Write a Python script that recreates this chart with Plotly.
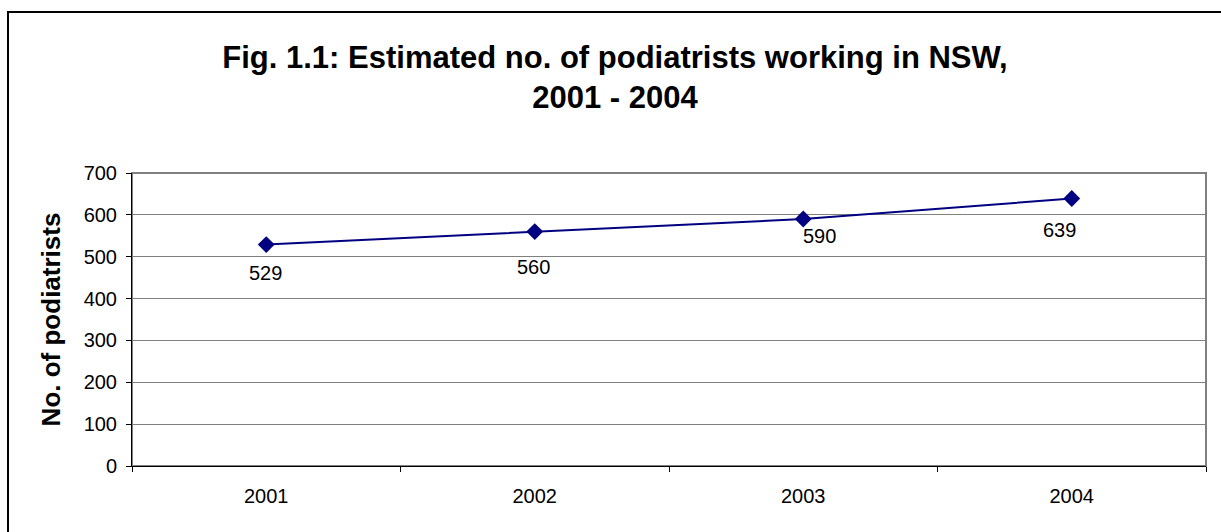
import plotly.graph_objects as go

years = ["2001", "2002", "2003", "2004"]
podiatrists = [529, 560, 590, 639]
y_ticks = [0, 100, 200, 300, 400, 500, 600, 700]

# label placement offsets in pixels (style, not data)
label_dx = [-1, -1, 16, -12]
label_dy = [-28, -35, -17, -31]

W, H = 1221, 532
ml, mr, mt, mb = 132, 15, 173, 66
pw = W - ml - mr
ph = H - mt - mb
FONT = "Liberation Sans, Arial, sans-serif"

fig = go.Figure()
fig.add_trace(go.Scatter(
    x=years, y=podiatrists, mode="lines+markers",
    line=dict(color="#000080", width=2),
    marker=dict(symbol="diamond", size=13, color="#000080"),
    cliponaxis=False, showlegend=False,
))

for i, (v, dx, dy) in enumerate(zip(podiatrists, label_dx, label_dy)):
    fig.add_annotation(x=i, y=v, xref="x", yref="y", text=str(v), showarrow=False,
                       xshift=dx, yshift=dy,
                       font=dict(family=FONT, size=20, color="black"))

fig.update_layout(
    width=W, height=H,
    margin=dict(l=ml, r=mr, t=mt, b=mb),
    paper_bgcolor="white", plot_bgcolor="white",
    font=dict(family=FONT, color="black"),
    title=dict(
        text="<b>Fig. 1.1: Estimated no. of podiatrists working in NSW,<br>2001 - 2004</b>",
        x=615 / W, xanchor="center", y=1 - 68 / H, yanchor="middle",
        font=dict(size=31, family=FONT, color="black"),
    ),
    xaxis=dict(
        type="category", range=[-0.5, 3.5], tickson="boundaries",
        ticks="outside", ticklen=5, tickcolor="black",
        showline=True, linecolor="black", linewidth=1,
        showgrid=False, tickfont=dict(size=20), ticklabelstandoff=12,
        fixedrange=True,
    ),
    yaxis=dict(
        range=[0, 700], tickvals=y_ticks, ticks="outside", ticklen=5,
        tickcolor="black", showline=True, linecolor="black", linewidth=1,
        showgrid=True, gridcolor="#808080", gridwidth=1,
        tickfont=dict(size=20), zeroline=False, ticklabelstandoff=5,
        title=dict(text="<b>No. of podiatrists</b>", font=dict(size=26), standoff=15),
    ),
    shapes=[
        dict(type="rect", xref="paper", yref="paper", x0=0, x1=1, y0=0, y1=1,
             line=dict(color="#808080", width=2), layer="below"),
        dict(type="rect", xref="paper", yref="paper",
             x0=(8 - ml) / pw, x1=(W + 10 - ml) / pw,
             y0=-(H + 10 - mt - ph) / ph, y1=1 + (mt - 12) / ph,
             line=dict(color="black", width=2), layer="above"),
    ],
)

fig.write_html("out.html")
